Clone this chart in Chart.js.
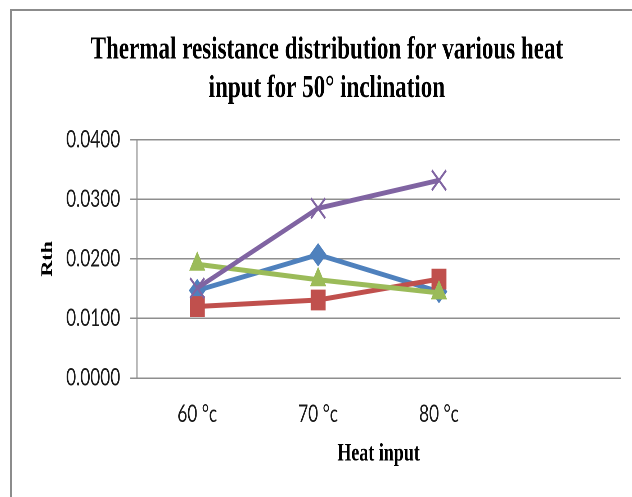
<!DOCTYPE html>
<html>
<head>
<meta charset="utf-8">
<script src="https://cdn.jsdelivr.net/npm/chart.js@4.4.0/dist/chart.umd.min.js"></script>
<style>
  html, body { margin: 0; padding: 0; background: #fff; overflow: hidden; }
  #frame { position: absolute; left: 10px; top: 9px; width: 700px; height: 600px; border: 2px solid #8c8c8c; }
  /* the original picture is squeezed sideways, so draw wide and squeeze */
  #wrap { position: absolute; left: 0; top: 0; width: 878px; height: 497px; transform: scaleX(0.72); transform-origin: 0 0; }
</style>
</head>
<body>
<div id="frame"></div>
<div id="wrap"><canvas id="rthChart" width="878" height="497"></canvas></div>
<script>
const heatInput = ["60 °c", "70 °c", "80 °c", ""];
const series1 = [0.0147, 0.0207, 0.0145];
const series2 = [0.0120, 0.0131, 0.0166];
const series3 = [0.0191, 0.0165, 0.0143];
const series4 = [0.0151, 0.0285, 0.0332];
const yMin = 0;
const yMax = 0.04;
const yStep = 0.01;

const GRID = "#8e8e8e";
const tickFont = { family: "Lato", size: 24 };
const serifBold = (size) => ({ family: "Liberation Serif", weight: "bold", size: size });

function line(label, data, color, style, radius, order, pbw) {
  return {
    label: label,
    data: data,
    borderColor: color,
    backgroundColor: color,
    borderWidth: 5,
    pointStyle: style,
    pointRadius: radius,
    pointBorderWidth: pbw || 1,
    pointBackgroundColor: color,
    pointBorderColor: color,
    tension: 0,
    order: order
  };
}

new Chart(document.getElementById("rthChart"), {
  type: "line",
  data: {
    labels: heatInput,
    datasets: [
      line("Series1", series1, "#4F81BD", "rectRot", 11, 4),
      line("Series2", series2, "#C0504D", "rect", 14, 3),
      line("Series3", series3, "#9BBB59", "triangle", 12, 2),
      line("Series4", series4, "#8064A2", "crossRot", 14, 1, 2.5)
    ]
  },
  options: {
    responsive: false,
    animation: false,
    devicePixelRatio: 2,
    layout: { padding: { left: 44, right: 14, top: 0, bottom: 20 } },
    plugins: {
      legend: { display: false },
      tooltip: { enabled: false },
      title: {
        display: true,
        text: ["Thermal resistance distribution for various heat", "input for 50° inclination"],
        font: serifBold(32),
        color: "#000",
        padding: { top: 31, bottom: 32 }
      }
    },
    scales: {
      x: {
        offset: true,
        grid: { display: false, drawTicks: false },
        border: { display: true, color: GRID, width: 1.5 },
        ticks: { font: tickFont, color: "#1a1a1a", padding: 22, maxRotation: 0, autoSkip: false },
        title: { display: true, text: "Heat input", font: serifBold(25), color: "#000", padding: { top: 0, bottom: 8 } },
        afterFit: (s) => { s.height = 99; }
      },
      y: {
        min: yMin,
        max: yMax,
        ticks: { stepSize: yStep, font: tickFont, color: "#1a1a1a", padding: 14, callback: (v) => v.toFixed(4) },
        grid: { color: GRID, lineWidth: 1.5, tickLength: 9 },
        border: { color: GRID, width: 1.5 },
        title: { display: true, text: "Rth", font: serifBold(22), color: "#000", padding: { top: 9, bottom: 0 } },
        afterFit: (s) => { s.width = 146; }
      }
    }
  }
});
</script>
</body>
</html>
